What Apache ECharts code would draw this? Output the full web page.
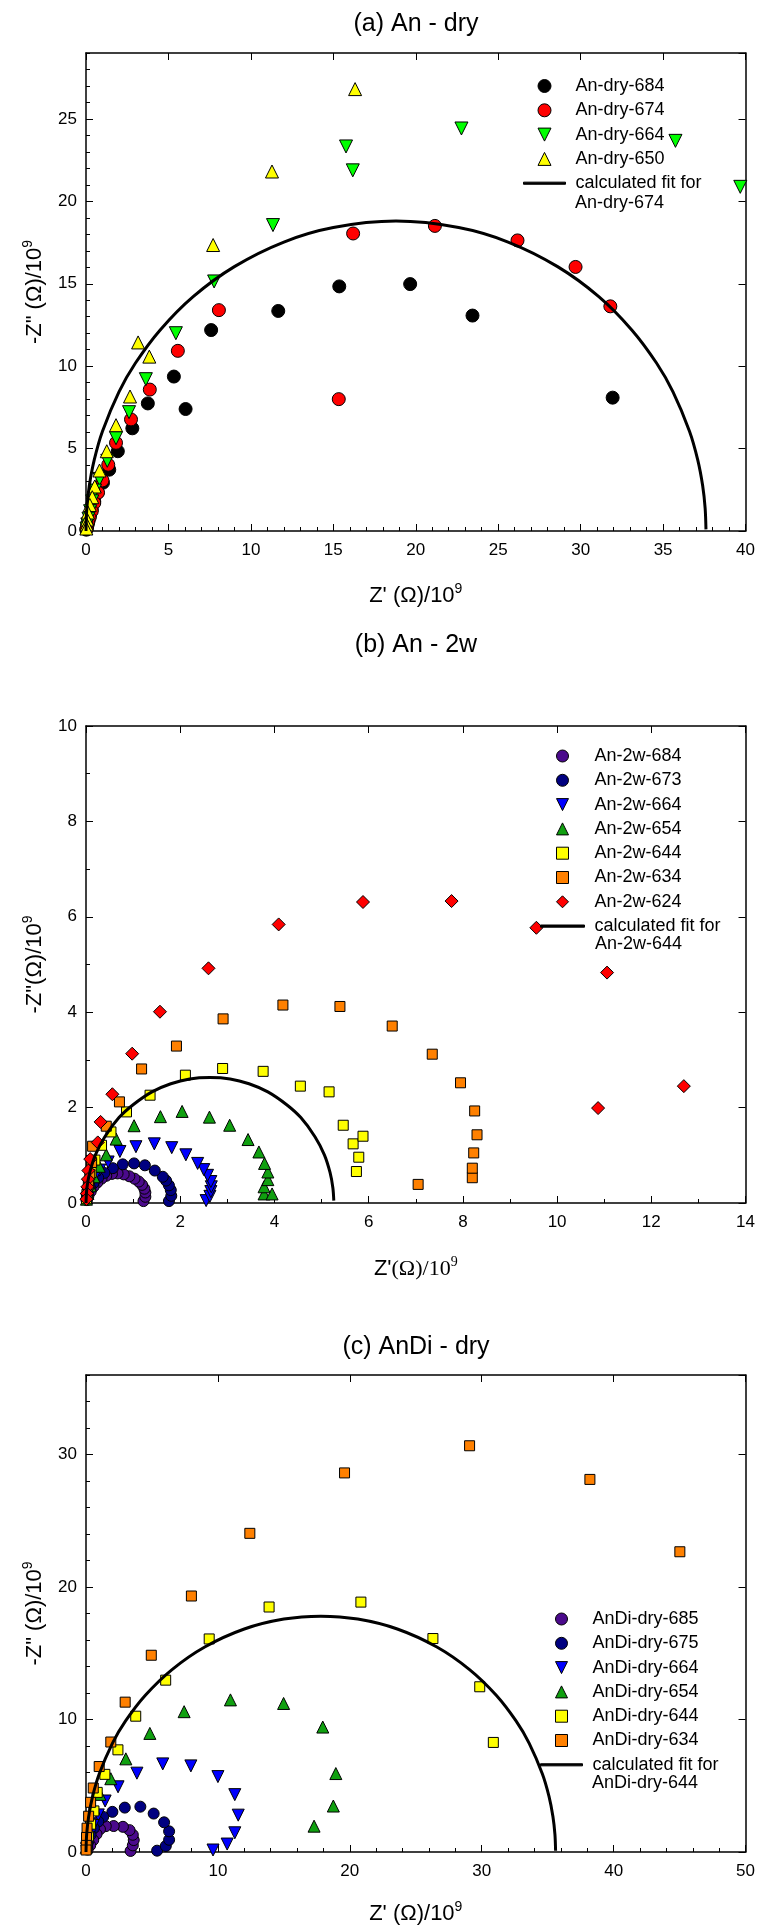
<!DOCTYPE html>
<html>
<head>
<meta charset="utf-8">
<script src="https://cdn.jsdelivr.net/npm/echarts@6/dist/echarts.min.js"></script>
<style>
  html, body { margin: 0; padding: 0; background: #fff; }
  #main { width: 758px; height: 1926px; }
</style>
</head>
<body>
<div id="main"></div>
<script>
const FONT = '"Liberation Sans", Arial, sans-serif'
const SERIF = '"Liberation Serif", "Times New Roman", serif'

// (a) An - dry  -- [Z', -Z''] in 10^9 ohm
const anDry684 = [[31.94, 8.09], [23.44, 13.07], [19.66, 14.98], [15.36, 14.84], [11.66, 13.35], [7.59, 12.19], [6.04, 7.40], [5.33, 9.37], [3.75, 7.74], [2.81, 6.23], [1.93, 4.84], [1.41, 3.72], [1.03, 2.93], [0.70, 2.33], [0.50, 1.80], [0.35, 1.30], [0.24, 0.92], [0.15, 0.60], [0.09, 0.36], [0.05, 0.20], [0.02, 0.08]]
const anDry674 = [[31.80, 13.63], [29.69, 16.02], [26.17, 17.63], [21.16, 18.51], [16.20, 18.05], [15.33, 8.00], [8.06, 13.40], [5.57, 10.93], [3.87, 8.58], [2.73, 6.77], [1.82, 5.35], [1.35, 4.02], [1.00, 3.07], [0.73, 2.33], [0.50, 1.70], [0.35, 1.20], [0.22, 0.80], [0.13, 0.50], [0.07, 0.28], [0.03, 0.12]]
const anDry664 = [[39.68, 20.88], [35.75, 23.67], [22.77, 24.42], [15.77, 23.33], [16.18, 21.88], [11.34, 18.56], [7.77, 15.14], [5.45, 12.00], [3.63, 9.21], [2.61, 7.21], [1.82, 5.63], [1.29, 4.26], [0.82, 3.16], [0.55, 2.45], [0.38, 1.80], [0.25, 1.20], [0.15, 0.75], [0.08, 0.40], [0.03, 0.15]]
const anDry650 = [[16.32, 26.81], [11.28, 21.81], [7.71, 17.35], [3.16, 11.44], [3.84, 10.58], [2.67, 8.16], [1.82, 6.42], [1.26, 4.84], [0.82, 3.67], [0.53, 2.70], [0.38, 2.05], [0.23, 1.58], [0.12, 1.12], [0.07, 0.70], [0.04, 0.40], [0.02, 0.15]]
const fitAnDry674 = [[0, 0], [0.05, 1.37], [0.2, 2.74], [0.5, 4.31], [1, 6.05], [2, 8.44], [3, 10.19], [4.5, 12.2], [6.5, 14.22], [9, 16.04], [12, 17.53], [15, 18.41], [18.8, 18.8], [22.6, 18.41], [25.6, 17.53], [28.6, 16.04], [31.1, 14.22], [33.1, 12.2], [34.6, 10.19], [35.6, 8.44], [36.6, 6.05], [37.1, 4.31], [37.4, 2.74], [37.55, 1.37], [37.6, 0.1]]

// (b) An - 2w
const an2w684 = [[1.22, 0.04], [1.26, 0.13], [1.26, 0.22], [1.24, 0.30], [1.19, 0.38], [1.12, 0.45], [1.03, 0.51], [0.92, 0.56], [0.80, 0.60], [0.67, 0.62], [0.55, 0.61], [0.43, 0.57], [0.33, 0.51], [0.24, 0.43], [0.16, 0.34], [0.10, 0.24], [0.05, 0.14], [0.02, 0.06]]
const an2w673 = [[1.76, 0.04], [1.81, 0.15], [1.80, 0.27], [1.76, 0.37], [1.70, 0.47], [1.63, 0.55], [1.46, 0.68], [1.25, 0.79], [1.02, 0.83], [0.78, 0.81], [0.57, 0.73], [0.39, 0.63], [0.26, 0.53], [0.16, 0.42], [0.09, 0.31], [0.04, 0.19], [0.01, 0.07]]
const an2w664 = [[2.55, 0.05], [2.63, 0.14], [2.65, 0.24], [2.66, 0.34], [2.65, 0.45], [2.58, 0.58], [2.50, 0.70], [2.37, 0.83], [2.12, 1.01], [1.82, 1.16], [1.45, 1.24], [1.06, 1.18], [0.72, 1.08], [0.47, 0.86], [0.29, 0.69], [0.17, 0.52], [0.09, 0.36], [0.04, 0.21], [0.01, 0.08]]
const an2w654 = [[3.78, 0.19], [3.95, 0.19], [3.78, 0.34], [3.86, 0.49], [3.86, 0.65], [3.79, 0.83], [3.67, 1.07], [3.44, 1.33], [3.05, 1.63], [2.62, 1.80], [2.04, 1.92], [1.58, 1.81], [1.02, 1.62], [0.64, 1.34], [0.43, 1.01], [0.28, 0.77], [0.17, 0.55], [0.09, 0.36], [0.04, 0.20], [0.01, 0.08]]
const an2w644 = [[5.74, 0.66], [5.79, 0.96], [5.67, 1.24], [5.88, 1.40], [5.46, 1.63], [5.16, 2.33], [4.55, 2.45], [3.76, 2.76], [2.90, 2.82], [2.11, 2.68], [1.36, 2.26], [0.86, 1.91], [0.53, 1.49], [0.33, 1.21], [0.19, 0.90], [0.11, 0.64], [0.06, 0.42], [0.03, 0.24], [0.01, 0.09]]
const an2w634 = [[7.05, 0.39], [8.20, 0.53], [8.20, 0.73], [8.23, 1.05], [8.30, 1.43], [8.25, 1.93], [7.95, 2.52], [7.35, 3.12], [6.50, 3.71], [5.39, 4.12], [4.18, 4.15], [2.91, 3.86], [1.92, 3.29], [1.18, 2.81], [0.71, 2.12], [0.43, 1.61], [0.14, 1.19], [0.12, 0.85], [0.08, 0.60], [0.05, 0.38], [0.02, 0.18]]
const an2w624 = [[12.69, 2.45], [10.87, 1.99], [11.06, 4.83], [9.56, 5.77], [7.76, 6.33], [5.88, 6.31], [4.09, 5.84], [2.60, 4.92], [1.57, 4.01], [0.98, 3.13], [0.56, 2.28], [0.31, 1.70], [0.25, 1.27], [0.09, 0.92], [0.05, 0.68], [0.04, 0.50], [0.03, 0.34], [0.02, 0.20], [0.01, 0.08]]
const fitAn2w644 = [[0, 0], [0.02, 0.32], [0.08, 0.64], [0.2, 1.01], [0.4, 1.39], [0.7, 1.79], [1.0, 2.06], [1.4, 2.33], [1.8, 2.5], [2.2, 2.6], [2.63, 2.63], [3.06, 2.6], [3.46, 2.5], [3.86, 2.33], [4.26, 2.06], [4.56, 1.79], [4.86, 1.39], [5.06, 1.01], [5.18, 0.64], [5.24, 0.32], [5.26, 0.05]]

// (c) AnDi - dry
const anDiDry685 = [[3.38, 0.08], [3.55, 0.50], [3.62, 0.90], [3.55, 1.30], [3.30, 1.65], [2.80, 1.90], [2.10, 1.96], [1.50, 1.95], [1.06, 1.72], [0.80, 1.35], [0.55, 0.90], [0.32, 0.50], [0.12, 0.18]]
const anDiDry675 = [[5.39, 0.10], [6.05, 0.45], [6.30, 0.92], [6.30, 1.56], [5.92, 2.24], [5.13, 2.90], [4.12, 3.42], [2.94, 3.35], [2.00, 3.03], [1.30, 2.65], [0.93, 2.30], [0.60, 1.80], [0.35, 1.30], [0.18, 0.80], [0.07, 0.35]]
const anDiDry664 = [[9.63, 0.15], [10.70, 0.60], [11.28, 1.45], [11.54, 2.78], [11.28, 4.33], [10.00, 5.69], [7.95, 6.50], [5.82, 6.65], [3.86, 5.95], [2.43, 4.92], [1.45, 3.85], [0.93, 2.80], [0.55, 2.00], [0.30, 1.30], [0.12, 0.70], [0.04, 0.25]]
const anDiDry654 = [[17.29, 1.95], [18.75, 3.47], [18.94, 5.92], [17.95, 9.43], [14.98, 11.21], [10.95, 11.48], [7.44, 10.59], [4.84, 8.95], [3.02, 7.03], [1.88, 5.53], [1.05, 4.35], [0.60, 3.30], [0.33, 2.40], [0.15, 1.60], [0.06, 0.90], [0.02, 0.35]]
const anDiDry644 = [[30.88, 8.27], [29.85, 12.47], [26.30, 16.11], [20.84, 18.86], [13.88, 18.49], [9.34, 16.08], [6.04, 12.97], [3.77, 10.25], [2.42, 7.71], [1.43, 5.86], [0.85, 4.50], [0.60, 3.10], [0.35, 2.10], [0.18, 1.20], [0.07, 0.50]]
const anDiDry634 = [[45.02, 22.66], [38.20, 28.12], [29.08, 30.66], [19.60, 28.61], [12.42, 24.05], [7.99, 19.32], [4.95, 14.85], [2.97, 11.31], [1.88, 8.30], [1.00, 6.45], [0.55, 4.83], [0.35, 3.75], [0.20, 2.70], [0.08, 1.80], [0.04, 1.10], [0.02, 0.50], [0.01, 0.15]]
const fitAnDiDry644 = [[0, 0], [0.05, 1.33], [0.2, 2.66], [0.5, 4.19], [1, 5.88], [2, 8.2], [3, 9.89], [4.5, 11.83], [6.5, 13.75], [9, 15.47], [12, 16.83], [15, 17.58], [17.8, 17.8], [20.6, 17.58], [23.6, 16.83], [26.6, 15.47], [29.1, 13.75], [31.1, 11.83], [32.6, 9.89], [33.6, 8.2], [34.6, 5.88], [35.1, 4.19], [35.4, 2.66], [35.55, 1.33], [35.6, 0.1]]

// axis ranges: [max, major step, minor step]
const xRanges = [[40, 5, 1], [14, 2, 1], [50, 10, 2]]
const yRanges = [[29, 5, 1], [10, 2, 1], [36, 10, 2]]
const titles = ['(a) An - dry', '(b) An - 2w', '(c) AnDi - dry']

const grids = [
    {left: 86, right: 11, top: 53, height: 478},
    {left: 86, right: 11, top: 726, height: 477},
    {left: 86, right: 11, top: 1375, height: 477}
]

const tickStyle = {color: '#000', width: 1}
const frame = {onZero: false, lineStyle: {color: '#000', width: 1.5}}
const richName = {
    t: {fontSize: 22, fontFamily: FONT, color: '#000', lineHeight: 28},
    r: {fontSize: 22, fontFamily: SERIF, color: '#000', lineHeight: 28},
    s: {fontSize: 14, fontFamily: FONT, color: '#000', lineHeight: 14, verticalAlign: 'top'},
    rs: {fontSize: 14, fontFamily: SERIF, color: '#000', lineHeight: 14, verticalAlign: 'top'}
}

// three axes per side: labelled main, minor-tick overlay, opposite frame side
function buildAxes(dim, g, range, name, nameGap) {
    const [max, step, minor] = range
    const base = {gridIndex: g, type: 'value', min: 0, max: max, splitLine: {show: false}}
    const near = dim === 'x' ? 'bottom' : 'left'
    const far = dim === 'x' ? 'top' : 'right'
    return [
        Object.assign({}, base, {
            position: near,
            interval: step,
            axisLine: frame,
            axisTick: {inside: true, length: 7, lineStyle: tickStyle},
            axisLabel: {margin: dim === 'x' ? 11 : 9, showMaxLabel: max % step === 0, color: '#000', fontSize: 17, fontFamily: FONT},
            name: name,
            nameLocation: 'middle',
            nameGap: nameGap,
            nameRotate: dim === 'x' ? 0 : 90,
            nameTextStyle: {rich: richName}
        }),
        Object.assign({}, base, {
            position: near,
            interval: minor,
            axisLine: {show: false, onZero: false},
            axisTick: {inside: true, length: 4, lineStyle: tickStyle},
            axisLabel: {show: false}
        }),
        Object.assign({}, base, {
            position: far,
            interval: step,
            axisLine: frame,
            axisTick: {inside: true, length: 7, lineStyle: tickStyle},
            axisLabel: {show: false}
        })
    ]
}

const xNames = ['{t|Z\' (Ω)/10}{s|9}', '{t|Z\'}{r|(Ω)/10}{rs|9}', '{t|Z\' (Ω)/10}{s|9}']
const yNames = ['{t|-Z" (Ω)/10}{s|9}', '{t|-Z"(Ω)/10}{s|9}', '{t|-Z" (Ω)/10}{s|9}']
const xGaps = [51, 52, 48]

let xAxis = [], yAxis = []
for (let g = 0; g < 3; g++) {
    xAxis = xAxis.concat(buildAxes('x', g, xRanges[g], xNames[g], xGaps[g]))
    yAxis = yAxis.concat(buildAxes('y', g, yRanges[g], yNames[g], 37))
}

// legend icons; paths keep their aspect inside the legend box
const legendIcons = {
    circle: 'circle',
    up: 'path://M5,0L10,10L0,10Z',
    down: 'path://M0,0L10,0L5,10Z',
    rect: 'path://M0,0H10V10H0Z',
    diamond: 'path://M5,0L10,5L5,10L0,5Z',
    line: 'path://M0,0H100V5H0Z'
}
const symbolOf = {circle: 'circle', up: 'triangle', down: 'triangle', rect: 'rect', diamond: 'diamond'}

// [name, data, panel, shape, size, colour]
const specs = [
    ['An-dry-684', anDry684, 0, 'circle', 13, '#000000'],
    ['An-dry-674', anDry674, 0, 'circle', 13, '#ff0000'],
    ['An-dry-664', anDry664, 0, 'down', 13, '#00ff00'],
    ['An-dry-650', anDry650, 0, 'up', 13, '#ffff00'],
    ['calculated fit for\nAn-dry-674', fitAnDry674, 0, 'line'],

    ['An-2w-684', an2w684, 1, 'circle', 11, '#4b0a8c'],
    ['An-2w-673', an2w673, 1, 'circle', 11, '#000080'],
    ['An-2w-664', an2w664, 1, 'down', 12, '#0000ff'],
    ['An-2w-654', an2w654, 1, 'up', 12, '#10a010'],
    ['An-2w-644', an2w644, 1, 'rect', 10, '#ffff00'],
    ['An-2w-634', an2w634, 1, 'rect', 10, '#ff8000'],
    ['An-2w-624', an2w624, 1, 'diamond', 13, '#ff0000'],
    ['calculated fit for\nAn-2w-644', fitAn2w644, 1, 'line'],

    ['AnDi-dry-685', anDiDry685, 2, 'circle', 11, '#4b0a8c'],
    ['AnDi-dry-675', anDiDry675, 2, 'circle', 11, '#000080'],
    ['AnDi-dry-664', anDiDry664, 2, 'down', 12, '#0000ff'],
    ['AnDi-dry-654', anDiDry654, 2, 'up', 12, '#10a010'],
    ['AnDi-dry-644', anDiDry644, 2, 'rect', 10, '#ffff00'],
    ['AnDi-dry-634', anDiDry634, 2, 'rect', 10, '#ff8000'],
    ['calculated fit for\nAnDi-dry-644', fitAnDiDry644, 2, 'line']
]

const series = specs.map(([name, data, g, shape, size, color]) => {
    if (shape === 'line') {
        return {
            type: 'line', name: name, data: data,
            xAxisIndex: 3 * g, yAxisIndex: 3 * g,
            symbol: 'none', smooth: 0.3, clip: false,
            lineStyle: {color: '#000', width: 3},
            itemStyle: {color: '#000'},
            z: 4
        }
    }
    return {
        type: 'scatter', name: name, data: data,
        xAxisIndex: 3 * g, yAxisIndex: 3 * g,
        symbol: symbolOf[shape], symbolSize: size,
        symbolRotate: shape === 'down' ? 180 : 0,
        clip: false,
        itemStyle: {color: color, borderColor: '#000', borderWidth: 1, opacity: 1},
        z: 3
    }
})

const legendFor = (g, left, top, width, iconH) => ({
    data: specs.filter(s => s[2] === g).map(s => ({name: s[0], icon: legendIcons[s[3]]})),
    orient: 'vertical', left: left, top: top, padding: 0,
    itemWidth: width, itemHeight: iconH, itemGap: 6.3,
    itemStyle: {borderColor: '#000', borderWidth: 1},
    formatter: name => name.split('\n')[0],
    textStyle: {color: '#000', fontSize: 18, fontFamily: FONT, padding: [0, 0, 0, 5]}
})

const secondLines = [
    {text: 'An-dry-674', x: 575, y: 203},
    {text: 'An-2w-644', x: 595, y: 944},
    {text: 'AnDi-dry-644', x: 592, y: 1783}
]
const titleY = [24, 645, 1347]

const graphic = titles.map((t, i) => ({
    type: 'text', x: 416, y: titleY[i],
    style: {text: t, fill: '#000', fontSize: 25, fontFamily: FONT, align: 'center', verticalAlign: 'middle'}
})).concat(secondLines.map(l => ({
    type: 'text', x: l.x, y: l.y,
    style: {text: l.text, fill: '#000', fontSize: 18, fontFamily: FONT, align: 'left', verticalAlign: 'middle'}
})))

const chart = echarts.init(document.getElementById('main'), null, {renderer: 'canvas'})
chart.setOption({
    animation: false,
    backgroundColor: '#fff',
    grid: grids,
    xAxis: xAxis,
    yAxis: yAxis,
    legend: [
        legendFor(0, 523, 77, 42, 13),
        legendFor(1, 540, 747, 44, 12),
        legendFor(2, 540, 1610, 42, 12)
    ],
    graphic: graphic,
    series: series
})
</script>
</body>
</html>
